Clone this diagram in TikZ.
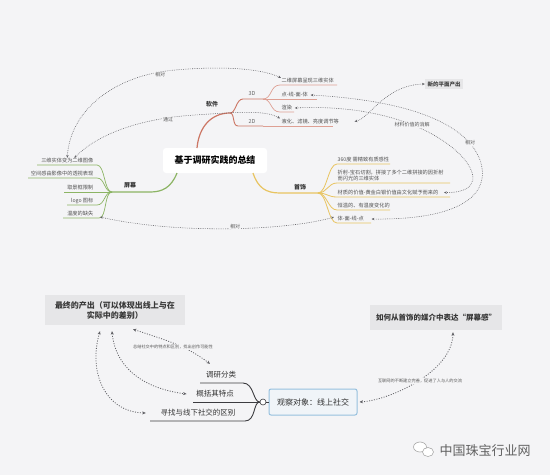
\documentclass[tikz,border=0pt]{standalone}
\usepackage{fontspec}
\setmainfont{Noto Sans CJK SC}
\usetikzlibrary{arrows.meta,shapes.geometric}
\definecolor{bg}{RGB}{244,244,246}
\definecolor{swred}{RGB}{204,118,100}
\definecolor{swlight}{RGB}{222,160,148}
\definecolor{scgreen}{RGB}{140,180,100}
\definecolor{jwyellow}{RGB}{232,196,96}
\definecolor{relc}{RGB}{95,95,100}
\definecolor{boxgray}{RGB}{230,230,232}
\definecolor{obsblue}{RGB}{150,192,222}
\definecolor{obsfill}{RGB}{240,244,248}
\definecolor{darkln}{RGB}{60,60,64}
\tikzset{
  ctr/.style={fill=white, rounded corners=3pt, minimum width=104pt, minimum height=25pt, inner sep=2pt, font=\fontsize{9}{10}\selectfont\bfseries},
  mainlbl/.style={inner sep=0.5pt, font=\fontsize{6}{7}\selectfont\bfseries, text=black!80},
  midlbl/.style={inner sep=0.5pt, font=\fontsize{5.5}{6}\selectfont, text=black!60},
  leaf/.style={inner sep=0.5pt, font=\fontsize{5.2}{6.6}\selectfont, text=black!68},
  rellbl/.style={inner sep=0.6pt, fill=bg, font=\fontsize{5}{6}\selectfont, text=black!65},
  rel/.style={draw=relc, line width=0.55pt, dash pattern=on 0.7pt off 1.1pt, {Stealth[length=2.8pt,width=2.4pt]}-{Stealth[length=2.8pt,width=2.4pt]}},
  relbig/.style={draw=relc, line width=0.8pt, dash pattern=on 1pt off 1.5pt, {Stealth[length=3.5pt,width=3pt]}-{Stealth[length=3.5pt,width=3pt]}},
  graybox/.style={fill=boxgray, inner sep=2pt, align=center, font=\fontsize{8}{10}\selectfont\bfseries, text=black!78},
  subtxt/.style={inner sep=0.5pt, font=\fontsize{7.5}{9}\selectfont, text=black!80},
  tinylbl/.style={inner sep=0.5pt, fill=bg, font=\fontsize{4.2}{5}\selectfont, text=black!65}
}
\begin{document}
\begin{tikzpicture}[x=1pt,y=-1pt]
\fill[bg] (0,0) rectangle (550,475);
\useasboundingbox (0,0) rectangle (550,475);

% ---------- central topic ----------
\node[ctr] (root) at (215,160.5) {基于调研实践的总结};

% ---------- 软件 ----------
\node[mainlbl] (sw) at (212,104) {软件};
\node[midlbl] (d3) at (252,94) {3D};
\node[midlbl] (d2) at (252,121) {2D};
\node[leaf, anchor=west] (r1) at (281,81) {二维屏幕呈现三维实体};
\node[leaf, anchor=west] (r2) at (281,95) {点-线-面-体};
\node[leaf, anchor=west] (r3) at (281,108) {渲染};
\node[leaf, anchor=west] (r4) at (281,121.5) {液化、滤镜、亮度调节等};
\draw[swred, line width=1.2pt] (197,148) .. controls (199,126) and (212,113) .. (230,113);
\draw[swred, line width=0.9pt] (230,113) .. controls (236,113) and (236,99) .. (243,99) -- (263,99);
\draw[swred, line width=0.9pt] (230,113) .. controls (235,113) and (232,126) .. (238,126) -- (263,126);
\draw[swlight, line width=0.7pt] (263,99) .. controls (272,99) and (270,85) .. (280,85) -- (337,85);
\draw[swlight, line width=0.7pt] (263,99) -- (317,99);
\draw[swlight, line width=0.7pt] (263,99) .. controls (272,99) and (270,112) .. (280,112) -- (294,112);
\draw[swlight, line width=0.7pt] (263,126) -- (333,126);

% ---------- 屏幕 ----------
\node[mainlbl] (sc) at (130,185) {屏幕};
\node[leaf, anchor=east] (l1) at (94,161) {三维实体变为二维图像};
\node[leaf, anchor=east] (l2) at (94,174) {空间感由影像中的透视表现};
\node[leaf, anchor=east] (l3) at (94,187.5) {取景框限制};
\node[leaf, anchor=east] (l4) at (94,201) {logo 图标};
\node[leaf, anchor=east] (l5) at (94,214) {温度的缺失};
\draw[scgreen, line width=1.2pt] (177,173) .. controls (171,188) and (162,192) .. (150,192) -- (112,192);
\draw[scgreen, line width=0.7pt] (112,192) .. controls (104,192) and (105,165) .. (97,165) -- (37,165);
\draw[scgreen, line width=0.7pt] (112,192) .. controls (104,192) and (105,178) .. (97,178) -- (28,178);
\draw[scgreen, line width=0.7pt] (112,192) -- (64,192);
\draw[scgreen, line width=0.7pt] (112,192) .. controls (104,192) and (105,205) .. (97,205) -- (67,205);
\draw[scgreen, line width=0.7pt] (112,192) .. controls (104,192) and (107,218) .. (99,218) -- (63,218);

% ---------- 首饰 ----------
\node[mainlbl] (jw) at (300,187) {首饰};
\node[leaf, anchor=west] (m1) at (337,159.5) {360度 需精致有质感性};
\node[leaf, anchor=west, align=left] (m2) at (337,175.5) {折射-宝石切割，拼接了多个二维拼接的因折射\\而闪光的三维实体};
\node[leaf, anchor=west] (m3) at (337,192.5) {材质的价值-黄金白银价值由文化赋予而来的};
\node[leaf, anchor=west] (m4) at (337,205.5) {恒温的、有温度变化的};
\node[leaf, anchor=west] (m5) at (337,219) {体-面-线-点};
\draw[jwyellow, line width=1.2pt] (253,173) .. controls (258,188) and (266,193) .. (280,193) -- (318,193);
\draw[jwyellow, line width=0.8pt] (318,193) .. controls (327,193) and (328,164) .. (337,164) -- (390,164);
\draw[jwyellow, line width=0.8pt] (318,193) .. controls (327,193) and (328,183) .. (337,183) -- (450,183);
\draw[jwyellow, line width=0.8pt] (318,193) .. controls (327,193) and (328,197) .. (337,197) -- (450,197);
\draw[jwyellow, line width=0.8pt] (318,193) .. controls (327,193) and (328,210) .. (337,210) -- (390,210);
\draw[jwyellow, line width=0.8pt] (318,193) .. controls (327,193) and (328,223) .. (337,223) -- (371,223);

% ---------- new output box ----------
\node[fill=boxgray, inner sep=2.5pt, font=\fontsize{5.5}{6}\selectfont\bfseries, text=black!75] (np) at (444,84) {新的平面产出};

% ---------- relationships (top) ----------
\draw[rel] (l1.north) .. controls (70,110) and (115,75) .. (175,70) .. controls (220,66) and (260,68) .. (r1.north west);
\node[rellbl] (t1) at (160,75) {相对};
\draw[rel] ([xshift=7pt]l1.north) .. controls (100,132) and (145,118) .. (195,115) .. controls (240,112) and (265,110) .. ([xshift=-1pt]r4.north west);
\node[rellbl] (t2) at (168,120) {通过};
\draw[rel] ([xshift=2pt]r3.east) .. controls (380,104) and (440,130) .. (465,160) .. controls (482,182) and (470,193) .. ([xshift=5pt]m3.east);
\node[rellbl] (t3) at (412,125) {材料价值的消解};
\draw[rel] ([xshift=2pt]r2.east) .. controls (400,100) and (465,120) .. (480,160) .. controls (492,195) and (460,220) .. ([xshift=7pt]m5.east);
\node[rellbl] (t4) at (470,143) {相对};
\draw[rel] ([xshift=15pt]r4.east) .. controls (370,118) and (385,85) .. (np.west);
\draw[rel] ([xshift=6pt,yshift=-3pt]l5.east) .. controls (180,235) and (290,230) .. ([xshift=-3pt,yshift=2pt]m5.west);
\node[rellbl] (t5) at (235,226.5) {相对};

% ---------- bottom part ----------
\node[graybox, minimum width=140pt, minimum height=30pt] (fin) at (115,310) {最终的产出（可以体现出线上与在\\实际中的差别）};
\node[graybox, minimum width=132pt, minimum height=25pt, font=\fontsize{7.5}{9}\selectfont\bfseries] (how) at (436,317.5) {如何从首饰的媒介中表达“屏幕感”};
\node[draw=obsblue, fill=obsfill, line width=1pt, rounded corners=2pt, minimum width=88pt, minimum height=26pt, inner sep=2pt, font=\fontsize{8}{9}\selectfont, text=black!82] (obs) at (313,402) {观察对象：线上社交};
\node[circle, draw=darkln, fill=white, line width=0.6pt, inner sep=0pt, minimum size=6pt] (hub) at (263,402) {};
\node[subtxt] (k1) at (221,375) {调研分类};
\node[subtxt] (k2) at (215,394) {概括其特点};
\node[subtxt] (k3) at (198,413) {寻找与线下社交的区别};
\draw[darkln, line width=0.9pt] (obs.west) -- (hub.east);
\draw[darkln, line width=0.9pt] (hub.west) .. controls (253,402) and (254,383) .. (243,383) -- (200,383);
\draw[darkln, line width=0.9pt] (hub.west) -- (193,402);
\draw[darkln, line width=0.9pt] (hub.west) .. controls (253,402) and (256,421) .. (245,421) -- (150,421);

\draw[relbig] ([xshift=18pt,yshift=-4pt]fin.south) .. controls (165,340) and (185,345) .. ([xshift=-11pt,yshift=7pt]k1.north);
\node[tinylbl] (t6) at (173,347) {总结社交中的特点和区别，找出创作可能性};
\draw[relbig] ([xshift=-3pt,yshift=-6pt]fin.south) .. controls (115,365) and (140,388) .. ([xshift=-9pt]k2.west);
\draw[relbig] ([xshift=-15pt,yshift=-6pt]fin.south) .. controls (88,372) and (105,412) .. ([xshift=-14pt]k3.west);
\draw[relbig] ([xshift=2pt]obs.east) .. controls (390,400) and (452,372) .. ([xshift=17pt,yshift=-2pt]how.south);
\node[tinylbl] (t7) at (420,381) {互联网的不断建立完善，促进了人与人的交流};

% ---------- watermark ----------
\node[ellipse, draw=black!35, fill=white, line width=0.6pt, minimum width=13pt, minimum height=10pt, inner sep=0pt] (wx1) at (420,447) {};
\node[ellipse, draw=black!35, fill=white, line width=0.6pt, minimum width=11pt, minimum height=9pt, inner sep=0pt] (wx2) at (428,452) {};
\node[inner sep=0pt, font=\fontsize{13}{14}\selectfont, text=black!62] (wm) at (485,451) {中国珠宝行业网};
\end{tikzpicture}
\end{document}
